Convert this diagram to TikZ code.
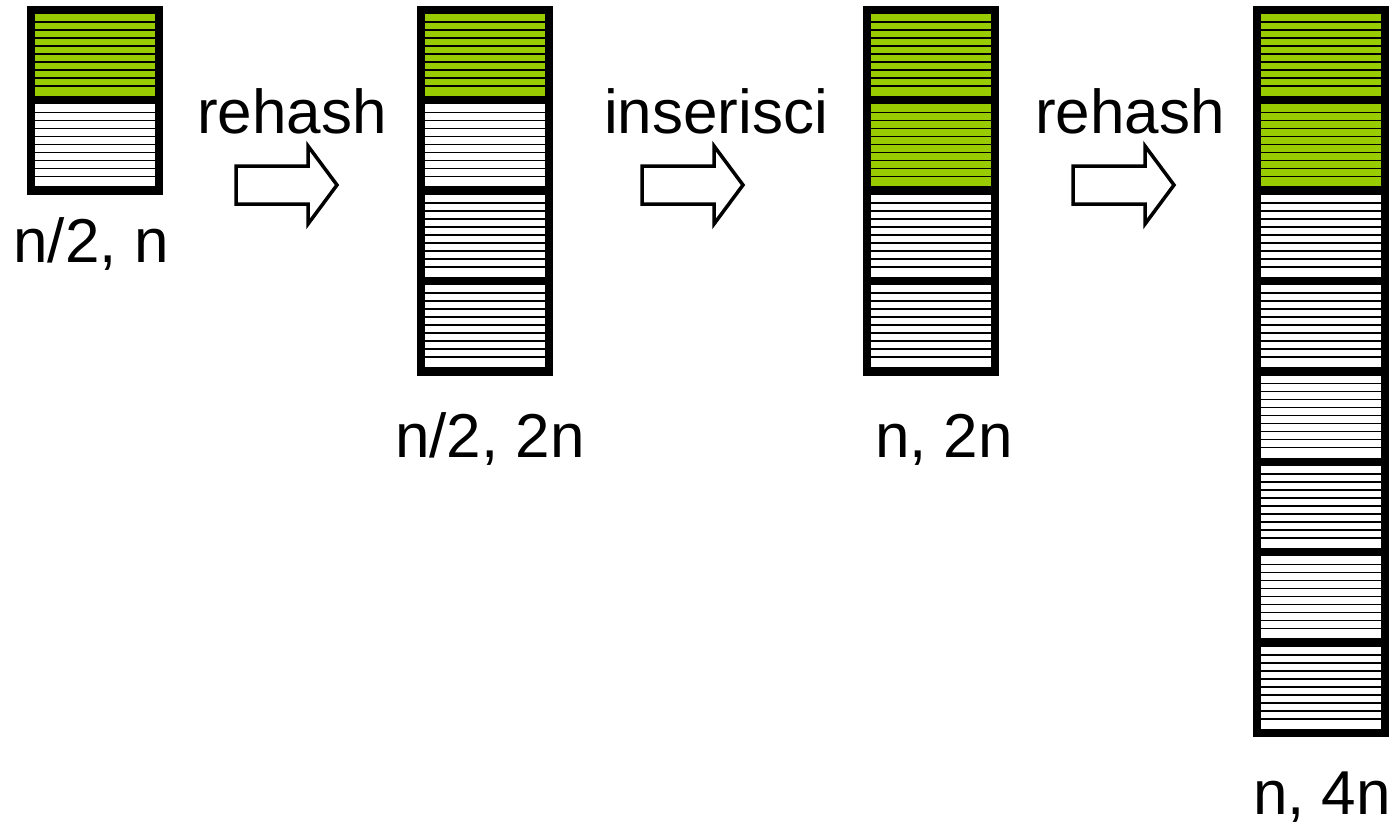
\documentclass[tikz,border=0pt]{standalone}
\usepackage{fontspec}
\setmainfont{Liberation Sans}
\definecolor{binGreen}{RGB}{153,204,0}
\begin{document}
\begin{tikzpicture}[x=1pt,y=-1pt,
  lbl/.style={anchor=base, font=\fontsize{62}{74}\selectfont, inner sep=0pt},
  blockarrow/.style={draw=black, line width=3.5pt, fill=white, line join=miter},
  stripe/.style={draw=black, line width=1.5pt}]
\useasboundingbox (0,0) rectangle (1399,828);
% hash table columns: left x / number of blocks / number of green blocks
\foreach \cx/\n/\g in {27/2/1, 417/4/1, 863/4/2, 1253/8/2} {
  \fill[black] (\cx,6) rectangle ++(136,{8+\n*90.4});
  \foreach \i in {1,...,\n} {
    \pgfmathsetmacro\tp{14+(\i-1)*90.4}
    \pgfmathtruncatemacro\isg{\i<=\g ? 1 : 0}
    \ifnum\isg=1 \def\fc{binGreen}\else\def\fc{white}\fi
    \fill[\fc] (\cx+8,\tp) rectangle ++(120,82);
    \foreach \k in {1,...,9}
      \draw[stripe] (\cx+8,\tp+8*\k) -- ++(120,0);
  }
}
% block arrows
\foreach \ax in {236, 642, 1073} {
  \draw[blockarrow] (\ax,166) -- (\ax+72,166) -- (\ax+72,146) -- (\ax+101,185)
    -- (\ax+72,224) -- (\ax+72,204) -- (\ax,204) -- cycle;
}
% labels
\node[lbl] (op1) at (292,133) {rehash};
\node[lbl] (op2) at (716,133) {inserisci};
\node[lbl] (op3) at (1130,133) {rehash};
\node[lbl] (t1) at (91,262) {n/2, n};
\node[lbl] (t2) at (490,457) {n/2, 2n};
\node[lbl] (t3) at (944,457) {n, 2n};
\node[lbl] (t4) at (1322,814) {n, 4n};
\end{tikzpicture}
\end{document}
